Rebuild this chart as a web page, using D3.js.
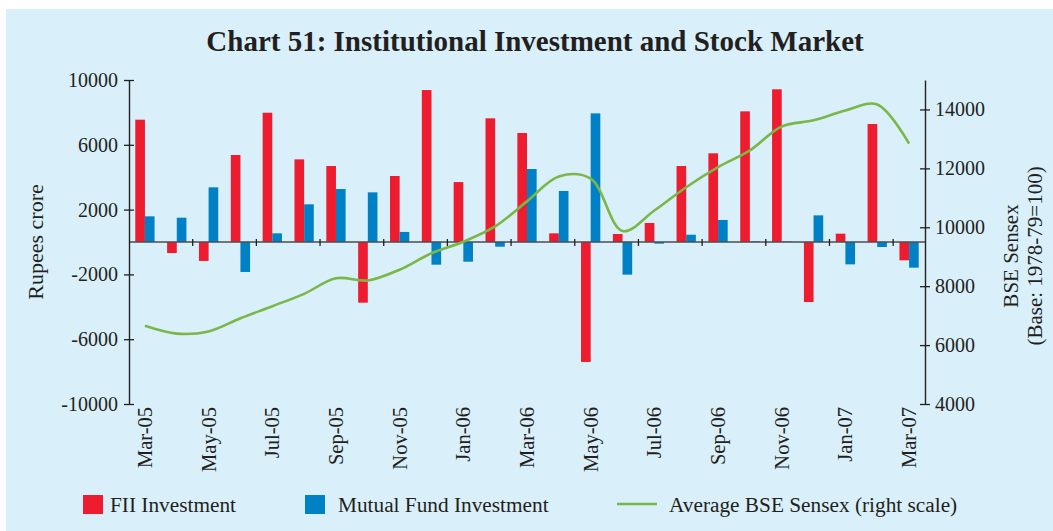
<!DOCTYPE html>
<html>
<head>
<meta charset="utf-8">
<script src="https://cdn.jsdelivr.net/npm/d3@7"></script>
<style>
  body { margin: 0; background: #fff; }
  svg { display: block; font-family: "Liberation Serif", "Times New Roman", serif; }
</style>
</head>
<body>
<svg id="chart" width="1053" height="531"></svg>
<script>
// Monthly data, Mar-05 .. Mar-07
const months = ["Mar-05","Apr-05","May-05","Jun-05","Jul-05","Aug-05","Sep-05","Oct-05","Nov-05","Dec-05",
  "Jan-06","Feb-06","Mar-06","Apr-06","May-06","Jun-06","Jul-06","Aug-06","Sep-06","Oct-06","Nov-06","Dec-06",
  "Jan-07","Feb-07","Mar-07"];

// Rupees crore
const fii = [7550, -680, -1170, 5370, 7980, 5100, 4690, -3745, 4075, 9380,
  3700, 7635, 6730, 535, -7405, 495, 1175, 4690, 5475, 8065, 9425, -3705,
  515, 7285, -1130];
const mutualFund = [1585, 1500, 3375, -1850, 535, 2325, 3270, 3065, 620, -1400,
  -1215, -290, 4505, 3150, 7940, -2015, -100, 450, 1360, 40, 30, 1645,
  -1380, -310, -1585];

// Average BSE Sensex (right scale)
const sensex = [6655, 6390, 6465, 6910, 7320, 7740, 8270, 8195, 8560, 9120,
  9510, 10030, 10880, 11725, 11650, 9870, 10570, 11360, 12040, 12610, 13420, 13630,
  13965, 14170, 12840];

const leftTicks = [-10000, -6000, -2000, 2000, 6000, 10000];
const rightTicks = [4000, 6000, 8000, 10000, 12000, 14000];

const seriesNames = ["FII Investment", "Mutual Fund Investment"];
const colors = { fii: "#ED1C2E", mf: "#0081C6", line: "#7AB648" };
const ink = "#231F20";

const svg = d3.select("#chart");

// panel background
svg.append("rect")
    .attr("x", 6).attr("y", 9)
    .attr("width", 1047).attr("height", 522)
    .attr("fill", "#D9F0FA");

svg.append("text")
    .attr("x", 535).attr("y", 51)
    .attr("text-anchor", "middle")
    .attr("font-size", 29)
    .attr("font-weight", "bold")
    .attr("fill", ink)
    .text("Chart 51: Institutional Investment and Stock Market");

const plot = { left: 129, right: 925, top: 80, bottom: 404 };

const x = d3.scaleBand()
    .domain(months)
    .range([plot.left, plot.right])
    .padding(0);

const xInner = d3.scaleBand()
    .domain(["fii", "mf"])
    .range([0, x.bandwidth()])
    .paddingInner(0)
    .paddingOuter(0.65);

const yL = d3.scaleLinear().domain([-10000, 10000]).range([plot.bottom, plot.top]);
const yR = d3.scaleLinear().domain([4000, 15000]).range([plot.bottom, plot.top]);

// bars
const rows = months.map((m, i) => ({ month: m, fii: fii[i], mf: mutualFund[i] }));

const groups = svg.append("g").selectAll("g")
    .data(rows)
    .enter()
    .append("g")
    .attr("transform", d => `translate(${x(d.month)},0)`);

groups.selectAll("rect")
    .data(d => ["fii", "mf"].map(k => ({ key: k, value: d[k] })))
    .enter()
    .append("rect")
    .attr("x", d => xInner(d.key))
    .attr("width", xInner.bandwidth())
    .attr("y", d => yL(Math.max(0, d.value)))
    .attr("height", d => Math.abs(yL(d.value) - yL(0)))
    .attr("fill", d => colors[d.key]);

// zero line with ticks every two months
const zeroY = yL(0);
svg.append("line")
    .attr("x1", plot.left).attr("x2", plot.right)
    .attr("y1", zeroY).attr("y2", zeroY)
    .attr("stroke", "#4D4D4F").attr("stroke-width", 1.3);

svg.append("g").selectAll("line")
    .data(months.filter((m, i) => i > 0 && i % 2 === 0))
    .enter()
    .append("line")
    .attr("x1", d => x(d)).attr("x2", d => x(d))
    .attr("y1", zeroY - 3).attr("y2", zeroY + 4)
    .attr("stroke", ink).attr("stroke-width", 1.3);

// sensex line
const line = d3.line()
    .x((d, i) => x(months[i]) + x.bandwidth() / 2)
    .y(d => yR(d))
    .curve(d3.curveCatmullRom);

svg.append("path")
    .datum(sensex)
    .attr("d", line)
    .attr("fill", "none")
    .attr("stroke", colors.line)
    .attr("stroke-width", 2.6);

// left axis
const leftAxis = svg.append("g")
    .attr("transform", `translate(${plot.left},0)`)
    .call(d3.axisLeft(yL).tickValues(leftTicks).tickFormat(d => String(d)).tickSizeOuter(0));

// right axis
const rightAxis = svg.append("g")
    .attr("transform", `translate(${plot.right},0)`)
    .call(d3.axisRight(yR).tickValues(rightTicks).tickFormat(d => String(d)).tickSizeOuter(0));

[leftAxis, rightAxis].forEach(ax => {
    ax.select(".domain").attr("stroke", ink).attr("stroke-width", 1.4);
    ax.selectAll(".tick line").attr("x1", -5).attr("x2", 5)
        .attr("stroke", ink).attr("stroke-width", 1.3);
    ax.selectAll(".tick text")
        .attr("font-size", 20)
        .attr("font-family", "Liberation Serif, serif")
        .attr("fill", ink);
});
leftAxis.selectAll(".tick text").attr("x", -11);
rightAxis.selectAll(".tick text").attr("x", 10);

// month labels
svg.append("g").selectAll("text")
    .data(months.filter((m, i) => i % 2 === 0))
    .enter()
    .append("text")
    .attr("transform", d => `translate(${x(d) + x.bandwidth() / 2 + 7},407) rotate(-90)`)
    .attr("text-anchor", "end")
    .attr("font-size", 20.5)
    .attr("fill", ink)
    .text(d => d);

// axis titles
svg.append("text")
    .attr("transform", "translate(43,242) rotate(-90)")
    .attr("text-anchor", "middle")
    .attr("font-size", 22)
    .attr("fill", ink)
    .text("Rupees crore");

svg.append("text")
    .attr("transform", "translate(1018,256) rotate(-90)")
    .attr("text-anchor", "middle")
    .attr("font-size", 21)
    .attr("fill", ink)
    .text("BSE Sensex");

svg.append("text")
    .attr("transform", "translate(1042,256) rotate(-90)")
    .attr("text-anchor", "middle")
    .attr("font-size", 21)
    .attr("fill", ink)
    .text("(Base: 1978-79=100)");

// legend
const legend = svg.append("g");
const legendItems = [
    { label: seriesNames[0], type: "box", color: colors.fii, x: 83, tx: 110 },
    { label: seriesNames[1], type: "box", color: colors.mf, x: 305, tx: 338 },
    { label: "Average BSE Sensex (right scale)", type: "line", color: colors.line, x: 617, tx: 669 }
];
legendItems.forEach(item => {
    if (item.type === "box") {
        legend.append("rect")
            .attr("x", item.x).attr("y", 495)
            .attr("width", 20).attr("height", 19)
            .attr("fill", item.color);
    } else {
        legend.append("line")
            .attr("x1", item.x).attr("x2", item.x + 40)
            .attr("y1", 504).attr("y2", 504)
            .attr("stroke", item.color).attr("stroke-width", 2.6);
    }
    legend.append("text")
        .attr("x", item.tx).attr("y", 512)
        .attr("font-size", 21.3)
        .attr("fill", ink)
        .text(item.label);
});
</script>
</body>
</html>
